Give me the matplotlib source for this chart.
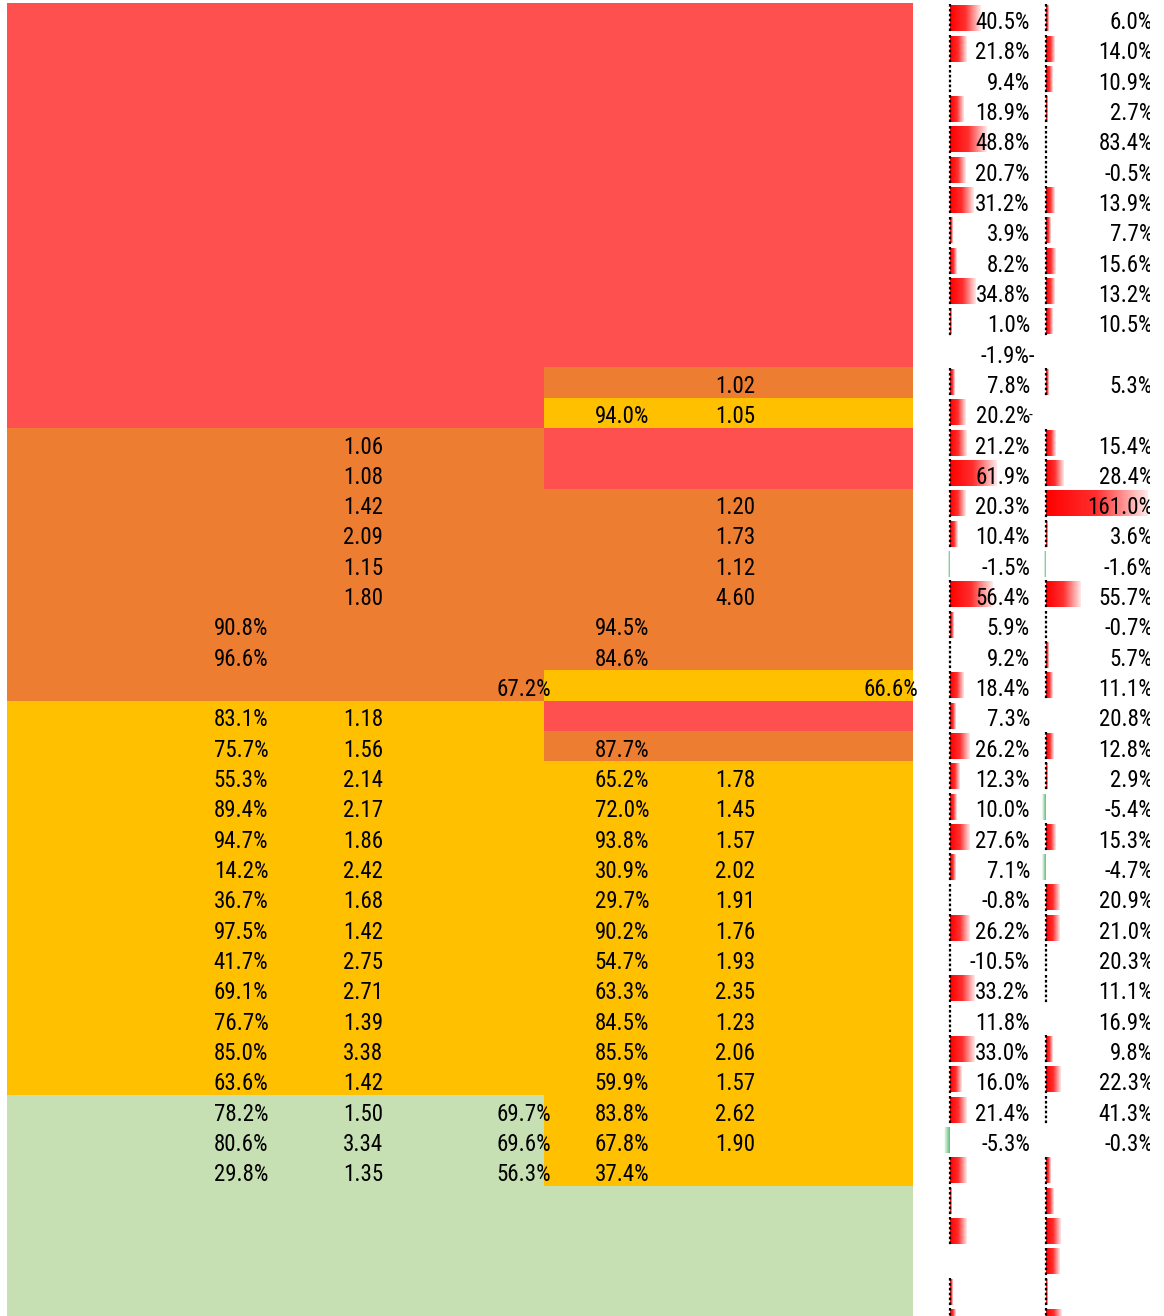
import matplotlib
matplotlib.use("Agg")
import matplotlib.pyplot as plt
import numpy as np
from matplotlib.patches import Rectangle
from matplotlib.colors import LinearSegmentedColormap

plt.rcParams['font.family'] = ['Arial Narrow', 'Roboto Condensed', 'Liberation Sans', 'DejaVu Sans']

# ---------------- data ----------------
N_ROWS = 44
# fill category for the left and right halves of the coloured block
left_fill = (["red"] * 14 + ["orange"] * 9 + ["yellow"] * 13 + ["green"] * 8)
right_fill = (["red"] * 12 + ["orange", "yellow", "red", "red"] + ["orange"] * 6 +
              ["yellow", "red", "orange"] + ["yellow"] * 14 + ["green"] * 5)

# left-half columns (A: percent, B: ratio, C: percent right aligned)
col_a = [None] * 20 + ["90.8%", "96.6%", None, "83.1%", "75.7%", "55.3%", "89.4%", "94.7%",
                       "14.2%", "36.7%", "97.5%", "41.7%", "69.1%", "76.7%", "85.0%", "63.6%",
                       "78.2%", "80.6%", "29.8%"] + [None] * 5
col_b = [None] * 14 + ["1.06", "1.08", "1.42", "2.09", "1.15", "1.80", None, None, None,
                       "1.18", "1.56", "2.14", "2.17", "1.86", "2.42", "1.68", "1.42", "2.75",
                       "2.71", "1.39", "3.38", "1.42", "1.50", "3.34", "1.35"] + [None] * 5
col_c = [None] * 22 + ["67.2%"] + [None] * 13 + ["69.7%", "69.6%", "56.3%"] + [None] * 5
# right-half columns
col_a2 = [None] * 13 + ["94.0%"] + [None] * 6 + ["94.5%", "84.6%", None, None, "87.7%",
                                                 "65.2%", "72.0%", "93.8%", "30.9%", "29.7%",
                                                 "90.2%", "54.7%", "63.3%", "84.5%", "85.5%",
                                                 "59.9%", "83.8%", "67.8%", "37.4%"] + [None] * 5
col_b2 = [None] * 12 + ["1.02", "1.05", None, None, "1.20", "1.73", "1.12", "4.60"] + \
         [None] * 5 + ["1.78", "1.45", "1.57", "2.02", "1.91", "1.76", "1.93", "2.35",
                       "1.23", "2.06", "1.57", "2.62", "1.90"] + [None] * 6
col_c2 = [None] * 22 + ["66.6%"] + [None] * 21

# data-bar columns: displayed text and bar lengths (pixels)
col_d = ["40.5%", "21.8%", "9.4%", "18.9%", "48.8%", "20.7%", "31.2%", "3.9%", "8.2%",
         "34.8%", "1.0%", "-1.9%-", "7.8%", "20.2%", "21.2%", "61.9%", "20.3%", "10.4%",
         "-1.5%", "56.4%", "5.9%", "9.2%", "18.4%", "7.3%", "26.2%", "12.3%", "10.0%",
         "27.6%", "7.1%", "-0.8%", "26.2%", "-10.5%", "33.2%", "11.8%", "33.0%", "16.0%",
         "21.4%", "-5.3%"] + [None] * 6
bar_d = [31, 17, 0, 14, 37, 16, 24, 3, 7, 26, 2, 0, 5, 16, 17, 47, 16, 8, -1, 43, 4, 0,
         14, 6, 20, 10, 7, 20, 6, 0, 20, 0, 25, 0, 25, 12, 17, -5, 17, 2, 17, 0, 3, 6]
col_e = ["6.0%", "14.0%", "10.9%", "2.7%", "83.4%", "-0.5%", "13.9%", "7.7%", "15.6%",
         "13.2%", "10.5%", None, "5.3%", None, "15.4%", "28.4%", "161.0%", "3.6%", "-1.6%",
         "55.7%", "-0.7%", "5.7%", "11.1%", "20.8%", "12.8%", "2.9%", "-5.4%", "15.3%",
         "-4.7%", "20.9%", "21.0%", "20.3%", "11.1%", "16.9%", "9.8%", "22.3%", "41.3%",
         "-0.3%"] + [None] * 6
bar_e = [3, 9, 7, 2, 0, 0, 9, 5, 10, 9, 7, 0, 3, 0, 10, 18, 102, 2, -1, 35, 0, 3, 7, 0,
         8, 2, -3, 10, -3, 14, 14, 0, 0, 0, 7, 15, 0, 0, 5, 8, 15, 14, 2, 16]
axis_d = [i for i in range(N_ROWS) if i not in (11, 18, 37, 41)]
axis_e = [0, 1, 2, 3, 4, 5, 6, 7, 8, 9, 10, 12, 14, 15, 16, 17, 19, 20, 21, 22, 24, 25, 27,
          29, 30, 31, 32, 34, 35, 36, 38, 39, 40, 41, 42, 43]

# ---------------- style / layout ----------------
W, H = 1164, 1316
TOP, RH = 3.4, 30.32
X0, XM, X1 = 7, 544, 913
COLORS = {"red": "#FF5050", "orange": "#ED7D31", "yellow": "#FFC000", "green": "#C6E0B4"}
FS = 16.5
TXT = "#000000"

fig = plt.figure(figsize=(W / 100, H / 100), dpi=100)
ax = fig.add_axes([0, 0, 1, 1])
ax.set_xlim(0, W)
ax.set_ylim(H, 0)
ax.axis("off")


def row_top(i):
    return TOP + i * RH


def row_mid(i):
    return TOP + (i + 0.5) * RH + 1.5


# coloured block
for i in range(N_ROWS):
    ax.add_patch(Rectangle((X0, row_top(i)), XM - X0, RH + 0.3, color=COLORS[left_fill[i]],
                           lw=0, zorder=1))
    ax.add_patch(Rectangle((XM, row_top(i)), X1 - XM, RH + 0.3, color=COLORS[right_fill[i]],
                           lw=0, zorder=1))


def put(col, x, ha):
    for i, s in enumerate(col):
        if s:
            ax.text(x, row_mid(i), s, ha=ha, va="center_baseline", fontsize=FS, color=TXT,
                    zorder=5)


put(col_a, 241, "center")
put(col_b, 363, "center")
put(col_c, 551, "right")
put(col_a2, 622, "center")
put(col_b2, 735, "center")
put(col_c2, 918, "right")

# data bars
grad = np.linspace(0, 1, 64).reshape(1, -1)
cm_red = LinearSegmentedColormap.from_list("r", ["#FF0000", "#FF3030", "#FFE8E8"])
cm_grn = LinearSegmentedColormap.from_list("g", ["#FFFFFF", "#A8DCB6", "#63BE7B"])


def bars(vals, axis_x, axis_rows):
    for i, v in enumerate(vals):
        t = row_top(i) + 2.5
        b = row_top(i) + RH - 2.5
        if v > 0:
            ax.imshow(grad, cmap=cm_red, aspect="auto", extent=(axis_x, axis_x + v, b, t),
                      zorder=2, interpolation="bilinear")
        elif v < 0:
            ax.imshow(grad, cmap=cm_grn, aspect="auto", extent=(axis_x + v - 1, axis_x, b, t),
                      zorder=2, interpolation="bilinear")
    for i in axis_rows:
        if vals[i] >= 0:
            ax.plot([axis_x, axis_x], [row_top(i) + 1, row_top(i) + RH - 1], color="black",
                    lw=1.6, ls=(0, (1.2, 1.0)), zorder=3)


bars(bar_d, 949.5, axis_d)
bars(bar_e, 1045.5, axis_e)

for i, s in enumerate(col_d):
    if s:
        x = 1035 if s.endswith("-") else 1030
        ax.text(x, row_mid(i), s, ha="right", va="center_baseline", fontsize=FS, color=TXT,
                zorder=5)
ax.text(1029, row_mid(13) + 2, "-", ha="left", va="center", fontsize=11, color=TXT, zorder=5)
for i, s in enumerate(col_e):
    if s:
        ax.text(1153, row_mid(i), s, ha="right", va="center_baseline", fontsize=FS, color=TXT,
                zorder=5)

# right edge of the visible sheet
ax.add_patch(Rectangle((1150, 0), W - 1150, H, color="white", lw=0, zorder=10))
ax.set_xlim(0, W)
ax.set_ylim(H, 0)

fig.savefig("out.png", dpi=100)
